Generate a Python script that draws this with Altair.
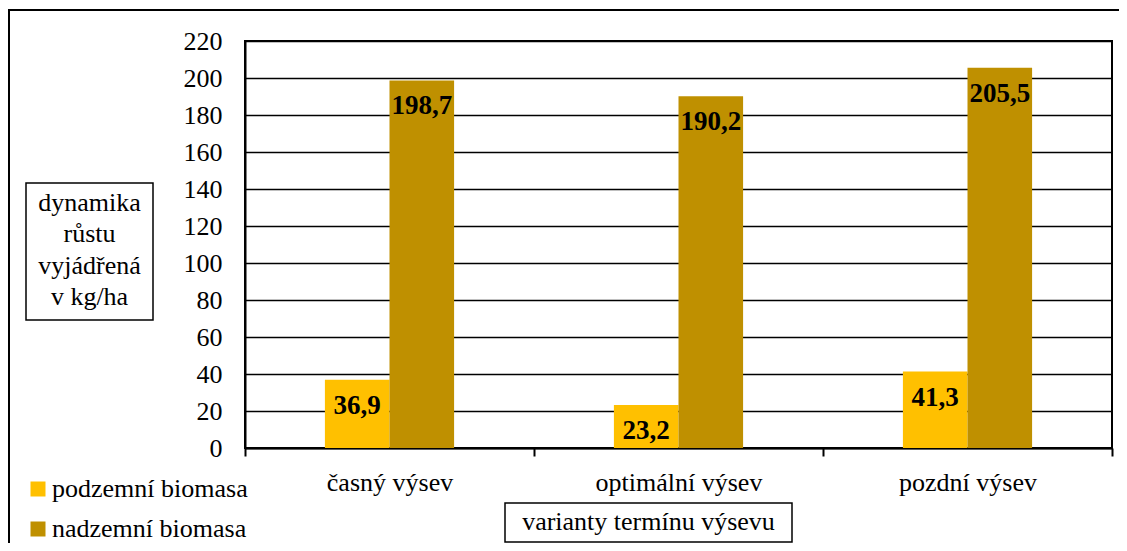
import altair as alt
import pandas as pd

categories = ["časný výsev", "optimální výsev", "pozdní výsev"]
series = ["podzemní biomasa", "nadzemní biomasa"]
podzemni = [36.9, 23.2, 41.3]
nadzemni = [198.7, 190.2, 205.5]
y_ticks = [0, 20, 40, 60, 80, 100, 120, 140, 160, 180, 200, 220]
colors = ["#FFC000", "#BF9000"]
y_title = ["dynamika", "růstu", "vyjádřená", "v kg/ha"]
x_title = "varianty termínu výsevu"

rows = []
for i, c in enumerate(categories):
    rows.append({"kat": c, "serie": series[0], "hodnota": podzemni[i]})
    rows.append({"kat": c, "serie": series[1], "hodnota": nadzemni[i]})
df = pd.DataFrame(rows)

FONT = "Liberation Serif"
W, H = 867, 407
BAND = W / 3
GROUP = BAND * 0.447
START = (BAND - GROUP) / 2

x_enc = alt.X("kat:N", sort=categories,
              scale=alt.Scale(paddingInner=0, paddingOuter=0),
              axis=alt.Axis(title=None, labelAngle=0, labelFontSize=26,
                            labelColor="black", labelPadding=13,
                            tickBand="extent", tickSize=8, tickWidth=2,
                            tickColor="black", domain=True, domainColor="black",
                            domainWidth=2, grid=False, labelFont=FONT,
                            labelLimit=0))
xo_enc = alt.XOffset("serie:N", sort=series,
                     scale=alt.Scale(paddingInner=0, paddingOuter=0,
                                     range=[START, START + GROUP]))
y_axis = alt.Axis(values=y_ticks, tickCount=12, title=y_title, titleAngle=0,
                  titleAlign="center", titleBaseline="top",
                  titleX=-156, titleY=148, titleLineHeight=31.5,
                  titleFontSize=26, titleFontWeight="normal",
                  titleFont=FONT, titleColor="black",
                  labelFontSize=26, labelFont=FONT, labelColor="black",
                  labelOverlap=False, labelFlush=False,
                  ticks=False, tickSize=0, labelPadding=23,
                  grid=True, gridColor="black", gridWidth=1.5,
                  domain=True, domainColor="black", domainWidth=2)
y_enc = alt.Y("hodnota:Q",
              scale=alt.Scale(domain=[0, 220], nice=False),
              axis=y_axis)

bars = alt.Chart(df).mark_bar().encode(
    x=x_enc,
    xOffset=xo_enc,
    y=y_enc,
    color=alt.Color("serie:N", sort=series,
                    scale=alt.Scale(domain=series, range=colors),
                    legend=alt.Legend(title=None, orient="none", legendX=-220,
                                      legendY=435, direction="vertical",
                                      symbolType="square", symbolSize=225,
                                      symbolStrokeWidth=0, labelFontSize=26,
                                      labelFont=FONT, labelColor="black",
                                      labelLimit=0,
                                      rowPadding=14, labelOffset=1, padding=0)),
)

labels = alt.Chart(df).transform_calculate(
    txt="replace(format(datum.hodnota, '.1f'), '.', ',')"
).mark_text(baseline="middle", align="center", dy=26, fontSize=27,
            fontWeight="bold", font=FONT, color="black").encode(
    x=alt.X("kat:N", sort=categories),
    xOffset=alt.XOffset("serie:N", sort=series),
    y=alt.Y("hodnota:Q", axis=y_axis),
    text="txt:N",
)

one = pd.DataFrame({"a": [0]})

x_title_text = alt.Chart(one).mark_text(
    text=x_title, fontSize=26, font=FONT, color="black",
    align="center", baseline="middle").encode(
    x=alt.value(403.5), y=alt.value(481))

x_box = alt.Chart(one).mark_rect(fillOpacity=0, stroke="black", strokeWidth=1.5).encode(
    x=alt.value(260), x2=alt.value(547), y=alt.value(462), y2=alt.value(501))

y_box = alt.Chart(one).mark_rect(fillOpacity=0, stroke="black", strokeWidth=1.5).encode(
    x=alt.value(-219), x2=alt.value(-92), y=alt.value(142), y2=alt.value(279))

outer = alt.Chart(one).mark_rect(fillOpacity=0, stroke="black", strokeWidth=2).encode(
    x=alt.value(-236), x2=alt.value(920), y=alt.value(-31), y2=alt.value(560))

chart = alt.layer(bars, labels, x_title_text, x_box, y_box, outer).properties(
    width=W, height=H,
    autosize=alt.AutoSizeParams(type="none"),
    padding={"left": 237, "top": 33, "right": 7, "bottom": 95},
).configure(font=FONT).configure_view(stroke="black", strokeWidth=2)

chart.save("out.html", embed_options={"renderer": "svg", "actions": False})
